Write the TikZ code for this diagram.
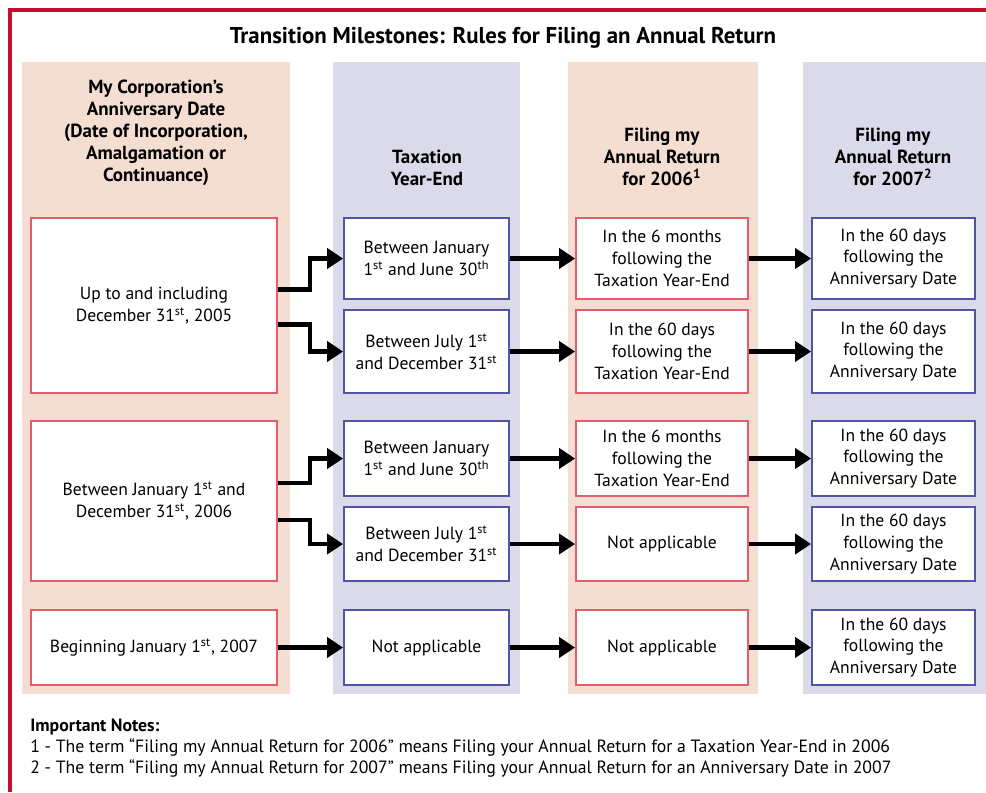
\documentclass[tikz,border=0pt]{standalone}
\usepackage{fontspec}
\setmainfont{PT Sans}
\usetikzlibrary{arrows.meta,calc}

\definecolor{framered}{RGB}{200,16,46}
\definecolor{bandpink}{RGB}{244,222,210}
\definecolor{bandblue}{RGB}{218,218,234}
\definecolor{boxred}{RGB}{226,92,108}
\definecolor{boxblue}{RGB}{82,86,162}

\begin{document}
\begin{tikzpicture}[
    x=0.02cm,
    y=-0.02cm,
    redbox/.style={
        rectangle,
        draw=boxred,
        fill=white,
        line width=1.1pt,
        align=center,
        inner sep=2pt,
        font=\fontsize{10}{12.5}\selectfont
    },
    bluebox/.style={
        redbox,
        draw=boxblue
    },
    anniv/.style={redbox, minimum width=4.92cm},
    taxbox/.style={bluebox, minimum width=3.3cm},
    fileA/.style={redbox, minimum width=3.44cm},
    fileB/.style={bluebox, minimum width=3.26cm},
    head/.style={
        anchor=south,
        inner sep=0pt,
        align=center,
        font=\bfseries\fontsize{10.8}{12.5}\selectfont
    },
    arrow/.style={
        -{Triangle[length=0.32cm,width=0.4cm]},
        line width=2.3pt
    }
]
\useasboundingbox (0,0) rectangle (986,792);

% Cornice
\draw[framered, line width=2.2pt] (986,10) -- (10,10) -- (10,792);

% Colonne
\fill[bandpink] (22,62) rectangle (290,694);
\fill[bandblue] (333,62) rectangle (520,694);
\fill[bandpink] (568,62) rectangle (758,694);
\fill[bandblue] (803,62) rectangle (986,694);

% Titolo
\node[font=\bfseries\fontsize{13}{15}\selectfont] (title) at (503,38) {Transition Milestones: Rules for Filing an Annual Return};

% Intestazioni
\node[head] (h1) at (156,186) {My Corporation’s\\Anniversary Date\\(Date of Incorporation,\\Amalgamation or\\Continuance)};
\node[head] (h2) at (427,186) {Taxation\\Year-End};
\node[head] (h3) at (662,186) {Filing my\\Annual Return\\for 2006\textsuperscript{1}};
\node[head] (h4) at (893,186) {Filing my\\Annual Return\\for 2007\textsuperscript{2}};

% Data di anniversario
\node[anniv, minimum height=3.5cm] (anniv1) at (154,305.5) {Up to and including\\December 31\textsuperscript{st}, 2005};
\node[anniv, minimum height=3.2cm] (anniv2) at (154,501) {Between January 1\textsuperscript{st} and\\December 31\textsuperscript{st}, 2006};
\node[anniv, minimum height=1.5cm] (anniv3) at (154,647.5) {Beginning January 1\textsuperscript{st}, 2007};

% Fine esercizio
\node[taxbox, minimum height=1.62cm] (tax1) at (426.5,258.5) {Between January\\1\textsuperscript{st} and June 30\textsuperscript{th}};
\node[taxbox, minimum height=1.66cm] (tax2) at (426.5,351.5) {Between July 1\textsuperscript{st}\\and December 31\textsuperscript{st}};
\node[taxbox, minimum height=1.5cm] (tax3) at (426.5,458.5) {Between January\\1\textsuperscript{st} and June 30\textsuperscript{th}};
\node[taxbox, minimum height=1.48cm] (tax4) at (426.5,544) {Between July 1\textsuperscript{st}\\and December 31\textsuperscript{st}};
\node[taxbox, minimum height=1.5cm] (tax5) at (426.5,647.5) {Not applicable};

% Dichiarazione 2006
\node[fileA, minimum height=1.62cm] (file1) at (662,258.5) {In the 6 months\\following the\\Taxation Year-End};
\node[fileA, minimum height=1.66cm] (file2) at (662,351.5) {In the 60 days\\following the\\Taxation Year-End};
\node[fileA, minimum height=1.5cm] (file3) at (662,458.5) {In the 6 months\\following the\\Taxation Year-End};
\node[fileA, minimum height=1.48cm] (file4) at (662,544) {Not applicable};
\node[fileA, minimum height=1.5cm] (file5) at (662,647.5) {Not applicable};

% Dichiarazione 2007
\node[fileB, minimum height=1.62cm] (next1) at (893.5,258.5) {In the 60 days\\following the\\Anniversary Date};
\node[fileB, minimum height=1.66cm] (next2) at (893.5,351.5) {In the 60 days\\following the\\Anniversary Date};
\node[fileB, minimum height=1.5cm] (next3) at (893.5,458.5) {In the 60 days\\following the\\Anniversary Date};
\node[fileB, minimum height=1.48cm] (next4) at (893.5,544) {In the 60 days\\following the\\Anniversary Date};
\node[fileB, minimum height=1.5cm] (next5) at (893.5,647.5) {In the 60 days\\following the\\Anniversary Date};

% Frecce a gomito
\draw[arrow] ($(anniv1.east)+(0,-16)$) -- ++(32,0) |- (tax1.west);
\draw[arrow] ($(anniv1.east)+(0,19)$) -- ++(32,0) |- (tax2.west);
\draw[arrow] ($(anniv2.east)+(0,-18)$) -- ++(32,0) |- (tax3.west);
\draw[arrow] ($(anniv2.east)+(0,19)$) -- ++(32,0) |- (tax4.west);
\draw[arrow] (anniv3.east) -- (tax5.west);

% Frecce dritte
\foreach \i in {1,...,5} {
    \draw[arrow] (tax\i.east) -- (file\i.west);
    \draw[arrow] (file\i.east) -- (next\i.west);
}

% Note
\node[anchor=north west, align=left, inner sep=0pt, font=\fontsize{10.1}{11.9}\selectfont] (notes) at (30,719) {
    \textbf{Important Notes:}\\
    1 - The term “Filing my Annual Return for 2006” means Filing your Annual Return for a Taxation Year-End in 2006\\
    2 - The term “Filing my Annual Return for 2007” means Filing your Annual Return for an Anniversary Date in 2007
};

\end{tikzpicture}
\end{document}
